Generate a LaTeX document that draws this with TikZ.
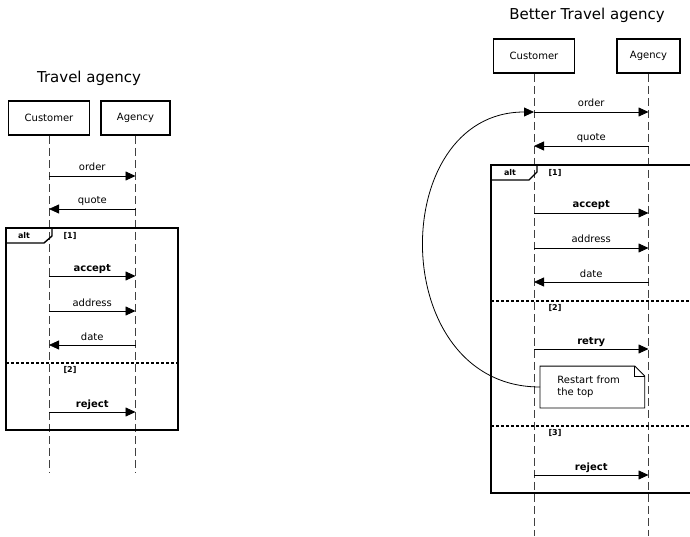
\documentclass[tikz,border=0pt]{standalone}
\usepackage{fontspec}
\setmainfont{DejaVu Sans}
\usetikzlibrary{arrows.meta}

\tikzset{
	head/.style={draw, line width=1.6pt, minimum height=34pt, inner sep=0pt, font=\fontsize{10}{12}\selectfont},
	title/.style={anchor=base, inner sep=0pt, font=\fontsize{15}{18}\selectfont},
	lifeline/.style={draw=black!75, line width=0.8pt, dash pattern=on 8pt off 4pt},
	msg/.style={line width=0.8pt, -{Triangle[length=10pt,width=9pt]}},
	msglabel/.style={midway, anchor=base, yshift=5pt, inner sep=0pt, font=\fontsize{10}{12}\selectfont},
	frame/.style={line width=1.4pt},
	separator/.style={line width=1.2pt, dash pattern=on 3pt off 2pt},
	guard/.style={inner sep=0pt, font=\bfseries\fontsize{8}{9}\selectfont},
	notebox/.style={anchor=west, align=left, text width=70pt, inner xsep=17pt, minimum height=41pt, font=\fontsize{10}{12}\selectfont},
}

\begin{document}
\begin{tikzpicture}
	[x=1pt, y=-1pt]

	\useasboundingbox (0,0) rectangle (690,537);

	% Travel agency
	\begin{scope}
		\node[title] (title) at (89,83) {Travel agency};

		% heads and lifelines
		\node[head, minimum width=81pt] (cust) at (49,118) {Customer};
		\node[head, minimum width=69pt] (agen) at (135.5,118) {Agency};
		\draw[lifeline] (cust.south) -- (cust |- 0,472);
		\draw[lifeline] (agen.south) -- (agen |- 0,472);

		% alt frame
		\begin{scope}
			\draw[frame] (6,228) rectangle (178,430);
			\draw[frame] (6,243) -- (44,243) -- (52,236) -- (52,228);
			\node[guard] (alt) at (24,235.5) {alt};
			\node[guard] (g1) at (70,235.5) {[1]};
			\draw[separator] (6,363) -- (178,363);
			\node[guard] (g2) at (70,370) {[2]};
		\end{scope}

		% messages
		\foreach \y/\txt/\from/\to in {176/order/cust/agen, 209/quote/agen/cust,
			276/{\textbf{accept}}/cust/agen, 311/address/cust/agen,
			345/date/agen/cust, 412/{\textbf{reject}}/cust/agen} {
			\draw[msg] (\from |- 0,\y) -- (\to |- 0,\y) node[msglabel] {\txt};
		}
	\end{scope}

	% Better Travel agency
	\begin{scope}
		\node[title] (btitle) at (587,19.5) {Better Travel agency};

		% heads and lifelines
		\node[head, minimum width=81pt] (bcust) at (534,56) {Customer};
		\node[head, minimum width=63pt] (bagen) at (648.5,56) {Agency};
		\draw[lifeline] (bcust.south) -- (bcust |- 0,536);
		\draw[lifeline] (bagen.south) -- (bagen |- 0,536);

		% alt frame, cut at the right edge
		\begin{scope}
			\draw[frame] (690,165) -- (491,165) -- (491,493) -- (690,493);
			\draw[frame] (491,180) -- (529,180) -- (537,172) -- (537,165);
			\node[guard] (balt) at (510,172.5) {alt};
			\node[guard] (bg1) at (555,172.5) {[1]};
			\draw[separator] (491,301) -- (690,301);
			\node[guard] (bg2) at (555,308) {[2]};
			\draw[separator] (491,426) -- (690,426);
			\node[guard] (bg3) at (555,433) {[3]};
		\end{scope}

		% messages
		\foreach \y/\txt/\from/\to in {112/order/bcust/bagen, 146/quote/bagen/bcust,
			213/{\textbf{accept}}/bcust/bagen, 248/address/bcust/bagen,
			282/date/bagen/bcust, 349/{\textbf{retry}}/bcust/bagen,
			475/{\textbf{reject}}/bcust/bagen} {
			\draw[msg] (\from |- 0,\y) -- (\to |- 0,\y) node[msglabel] {\txt};
		}

		% note with folded corner
		\begin{scope}[line width=0.8pt]
			\newcommand{\Fold}{10pt}
			\node[notebox] (restart) at (540,387) {Restart from\\the top};
			\draw (restart.north west) -- ([xshift=-\Fold]restart.north east)
				-- ([yshift=-\Fold]restart.north east) -- (restart.south east)
				-- (restart.south west) -- cycle;
			\draw ([xshift=-\Fold]restart.north east) |- ([yshift=-\Fold]restart.north east);
		\end{scope}

		% back to the top
		\coordinate (top) at (bcust |- 0,112);
		\draw[line width=0.8pt, -{Triangle[length=10pt,width=9pt]}]
			(restart.west) .. controls +(-154,0) and +(-148,0) .. (top);
	\end{scope}

\end{tikzpicture}
\end{document}
